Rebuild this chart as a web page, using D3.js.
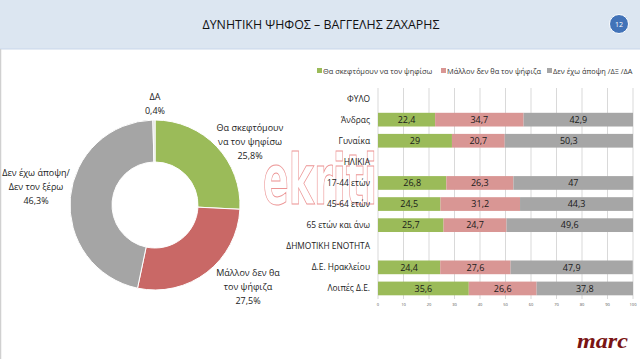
<!DOCTYPE html>
<html><head><meta charset="utf-8">
<script src="https://cdn.jsdelivr.net/npm/d3@7"></script>
<style>
html,body{margin:0;padding:0;background:#fff;}
svg{display:block;font-family:"Open Sans",sans-serif;}
</style></head><body>
<svg id="c" width="640" height="359"></svg>
<script>
const titleText = "ΔΥΝΗΤΙΚΗ ΨΗΦΟΣ – ΒΑΓΓΕΛΗΣ ΖΑΧΑΡΗΣ";
const pageNo = "12";
// donut
const pieLabels = ["Θα σκεφτόμουν\nνα τον ψηφίσω", "Μάλλον δεν θα\nτον ψήφιζα", "Δεν έχω άποψη/\nΔεν τον ξέρω", "ΔΑ"];
const pieValues = [25.8, 27.5, 46.3, 0.4];
const pieTexts = ["25,8%", "27,5%", "46,3%", "0,4%"];
const pieColors = ["#9bbb59", "#c96866", "#a5a5a5", "#d9d9d9"];
// bars
const categories = ["ΦΥΛΟ","Άνδρας","Γυναίκα","ΗΛΙΚΙΑ","17-44 ετών","45-64 ετών","65 ετών και άνω","ΔΗΜΟΤΙΚΗ ΕΝΟΤΗΤΑ","Δ.Ε. Ηρακλείου","Λοιπές Δ.Ε."];
const seriesNames = ["Θα σκεφτόμουν να τον ψηφίσω","Μάλλον δεν θα τον ψήφιζα","Δεν έχω άποψη /ΔΞ /ΔΑ"];
const greenVals = [null,22.4,29,null,26.8,24.5,25.7,null,24.4,35.6];
const redVals   = [null,34.7,20.7,null,26.3,31.2,24.7,null,27.6,26.6];
const grayVals  = [null,42.9,50.3,null,47,44.3,49.6,null,47.9,37.8];
const barColors = ["#9bbb59","#d99694","#a6a6a6"];
const xTicks = [0,10,20,30,40,50,60,70,80,90,100];

const svg = d3.select("#c");
// header
svg.append("rect").attr("x",0).attr("y",0).attr("width",640).attr("height",49).attr("fill","#dce6f1");
svg.append("line").attr("x1",0).attr("x2",640).attr("y1",49).attr("y2",49).attr("stroke","#c9d7ea").attr("stroke-width",1);
svg.append("line").attr("x1",0.5).attr("x2",0.5).attr("y1",49).attr("y2",359).attr("stroke","#d0d0d0").attr("stroke-width",1.5);
svg.append("text").attr("x",321).attr("y",29).attr("text-anchor","middle").attr("font-size",12.4).attr("fill","#111").text(titleText);
svg.append("circle").attr("cx",619).attr("cy",24).attr("r",9.5).attr("fill","#4273b8").attr("stroke","#fff").attr("stroke-width",1);
svg.append("text").attr("x",619).attr("y",27).attr("text-anchor","middle").attr("font-size",7).attr("fill","#fff").text(pageNo);

// donut
const cx=155, cy=205, R=85, r0=43;
const pie = d3.pie().sort(null).value(d=>d)(pieValues);
const arc = d3.arc().innerRadius(r0).outerRadius(R);
const g = svg.append("g").attr("transform",`translate(${cx},${cy})`);
g.selectAll("path").data(pie).join("path").attr("d",arc).attr("fill",(d,i)=>pieColors[i]).attr("stroke","#fff").attr("stroke-width",1);
const labelPos = [[250,131],[248,276],[36,176],[155,100]];
pieLabels.forEach((lab,i)=>{
  const lines = lab.split("\n").concat([pieTexts[i]]);
  const t = svg.append("text").attr("text-anchor","middle").attr("font-size",9).attr("fill","#222");
  lines.forEach((l,k)=>t.append("tspan").attr("x",labelPos[i][0]).attr("y",labelPos[i][1]+k*14).text(l));
});

// bars
const x = d3.scaleLinear().domain([0,100]).range([378,633]);
const y = d3.scaleBand().domain(categories).range([88,299]).paddingInner(0.35).paddingOuter(0.175);
const gg = svg.append("g");
gg.selectAll("line").data(xTicks).join("line").attr("x1",d=>x(d)).attr("x2",d=>x(d)).attr("y1",88).attr("y2",299).attr("stroke","#d9d9d9").attr("stroke-width",1);
svg.append("g").selectAll("text").data(xTicks).join("text").attr("x",d=>x(d)).attr("y",306).attr("text-anchor","middle").attr("font-size",4).attr("fill","#555").text(d=>d);

// watermark (behind labels)
svg.append("text").attr("x",263).attr("y",204).attr("font-family","DejaVu Sans").attr("font-weight","bold").attr("font-size",70)
  .attr("textLength",114).attr("lengthAdjust","spacingAndGlyphs")
  .attr("fill","none").attr("stroke","#e87a7a").attr("stroke-width",1).attr("opacity",0.8).text("ekriti");

const series=[greenVals,redVals,grayVals];
categories.forEach((c,i)=>{
  let acc=0;
  series.forEach((s,j)=>{
    const v=s[i]; if(v==null) return;
    svg.append("rect").attr("x",x(acc)).attr("y",y(c)).attr("width",x(acc+v)-x(acc)).attr("height",y.bandwidth()).attr("fill",barColors[j]);
    svg.append("text").attr("x",x(acc+v/2)).attr("y",y(c)+y.bandwidth()/2+3.3).attr("text-anchor","middle").attr("font-size",9).attr("fill","#1a1a1a").text(String(v).replace(".",","));
    acc+=v;
  });
  svg.append("text").attr("x",370).attr("y",y(c)+y.bandwidth()/2+3).attr("text-anchor","end").attr("font-size",8.4).attr("fill","#222").text(c);
});

// legend
const legX=[317,441,547];
seriesNames.forEach((n,i)=>{
  svg.append("rect").attr("x",legX[i]).attr("y",68).attr("width",5).attr("height",5).attr("fill",barColors[i]);
  svg.append("text").attr("x",legX[i]+6).attr("y",73.5).attr("font-size",7.4).attr("fill","#333").text(n);
});

// logo
svg.append("text").attr("x",577).attr("y",348).attr("font-family","Liberation Serif").attr("font-style","italic").attr("font-weight","bold")
  .attr("font-size",20).attr("textLength",51).attr("lengthAdjust","spacingAndGlyphs").attr("fill","#7a1414").text("marc");
</script>
</body></html>
